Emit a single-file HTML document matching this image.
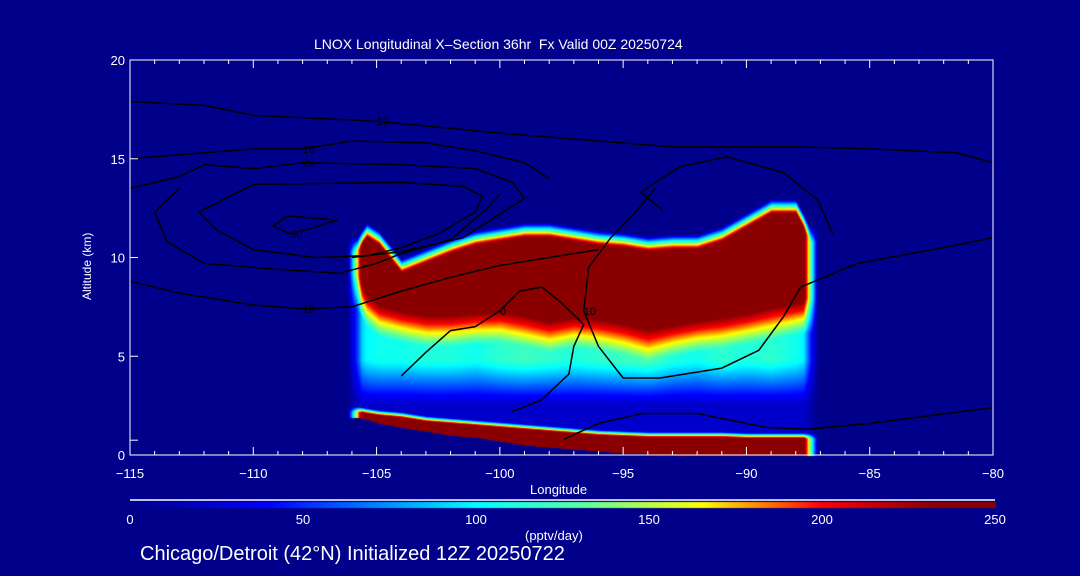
<!DOCTYPE html>
<html><head><meta charset="utf-8">
<style>
html,body{margin:0;padding:0;background:#00008a;}
#wrap{position:relative;width:1080px;height:576px;background:#00008a;overflow:hidden;font-family:"Liberation Sans",sans-serif;color:#fff;}
canvas{position:absolute;left:0;top:0;}
.t{position:absolute;color:#fff;font-size:13px;white-space:nowrap;}
</style></head>
<body>
<div id="wrap">
<canvas id="hm" width="1080" height="576"></canvas>
<svg id="ov" width="1080" height="576" style="position:absolute;left:0;top:0"></svg>
<div class="t" style="left:314px;top:36px;font-size:14px">LNOX Longitudinal X–Section 36hr&nbsp; Fx Valid 00Z 20250724</div>
<div class="t" style="left:530px;top:482px">Longitude</div>
<div class="t" style="left:80px;top:300px;transform:rotate(-90deg);transform-origin:left top;font-size:12px">Altitude (km)</div>
<div class="t" style="left:525px;top:528px">(pptv/day)</div>
<div class="t" style="left:140px;top:543px;font-size:20px">Chicago/Detroit (42°N) Initialized 12Z 20250722</div>
</div>
<script>
// data
const colLons   = [-105.8,-105.4,-104.9,-104,-103,-102,-101,-100,-99,-98,-97,-96,-95,-94,-93,-92,-91,-90,-89,-88,-87.4];
const redTop    = [10.3,11.0,10.6,9.2,9.7,10.2,10.6,10.8,11.0,11.0,10.8,10.6,10.5,10.3,10.4,10.4,10.8,11.5,12.2,12.2,10.8];
const redBot    = [9.2,8.3,7.8,7.5,7.3,7.3,7.4,7.5,7.3,7.0,7.2,7.1,6.9,6.6,6.8,7.0,7.2,7.4,7.7,7.9,8.0];
const midVal    = [80,100,105,105,110,110,105,115,120,115,110,115,120,125,110,105,115,110,115,105,90];
const surfTop   = [2.2,2.1,2.0,1.9,1.7,1.6,1.5,1.4,1.3,1.2,1.1,1.0,0.95,0.9,0.9,0.9,0.9,0.85,0.85,0.85,0.85];
const surfBot   = [1.9,1.8,1.6,1.4,1.2,1.0,0.9,0.7,0.5,0.4,0.3,0.2,0.1,0.05,0,0,0,0,0,0,0];
const xTicks = [-115,-110,-105,-100,-95,-90,-85,-80];
const yTicks = [0,5,10,15,20];
const cbTicks = [0,50,100,150,200,250];
const contours = [
 {lv:"10",pts:[[-115,17.9],[-112,17.7],[-110,17.2],[-105,16.9],[-100,16.3],[-97,16.0],[-93,15.6],[-88,15.6],[-85,15.5],[-81.5,15.3],[-80,14.8]]},
 {lv:"10",pts:[[-115,15.0],[-112,15.3],[-110,15.5],[-108,15.5],[-106,15.9],[-103,15.8],[-101,15.4],[-99,14.8],[-98,14.0]]},
 {lv:"20",pts:[[-115,13.5],[-113,14.1],[-112,14.7],[-110,14.5],[-108,14.8],[-104,14.7],[-101,14.5],[-99.5,13.8],[-99,13.0],[-100,12.2],[-101.5,11.0],[-104,10.3],[-106,10.0]]},
 {lv:"",pts:[[-113,13.5],[-114,12.3],[-113.5,10.8],[-112,9.7],[-109,9.4],[-106.5,9.2],[-105,9.7],[-104,10.2],[-102,10.9],[-100.5,12.5],[-100,13.2]]},
 {lv:"30",pts:[[-108.6,12.1],[-109.2,11.6],[-108.5,11.2],[-107.6,11.5],[-106.6,11.9],[-108.6,12.1]]},
 {lv:"",pts:[[-112.2,12.3],[-111.5,11.4],[-110,10.4],[-107.5,10.0],[-105.3,10.1],[-104,10.5],[-102.5,11.2],[-101,12.3],[-100.7,13.1],[-101.5,13.6],[-104,13.8],[-110,13.7],[-112.2,12.3]]},
 {lv:"10",pts:[[-115,8.8],[-113,8.2],[-110,7.6],[-108,7.4],[-106,7.5],[-104,8.3],[-102,9.0],[-100,9.6],[-98,10.0],[-96,10.4]]},
 {lv:"0",pts:[[-104,4.0],[-103,5.2],[-102,6.3],[-101,6.5],[-100,7.3],[-99.2,8.3],[-98.3,8.5],[-97.5,7.7],[-96.6,6.6],[-97.0,5.5],[-97.2,4.1],[-98.3,2.8],[-99.5,2.2]]},
 {lv:"",pts:[[-95,3.9],[-93.5,3.9],[-91,4.4],[-89.5,5.3],[-88.5,7.0],[-87.8,8.5],[-85.5,9.7],[-82,10.5],[-80,11.0]]},
 {lv:"10",pts:[[-95,3.9],[-96,5.5],[-96.6,7.3],[-96.4,9.5],[-95.5,11.0],[-94.5,12.3],[-93.7,13.5]]},
 {lv:"",pts:[[-93.4,12.4],[-94.3,13.3],[-92.7,14.6],[-90.8,15.1],[-88.5,14.3],[-87.1,12.9],[-86.5,11.2]]},
 {lv:"",pts:[[-97.4,0.8],[-96.0,1.6],[-94.2,2.1],[-92.0,2.1],[-89.2,1.4],[-87.5,1.3],[-85,1.6],[-80,2.4]]}
];
const X0=130,X1=993,Y0=455,Y1=60;
const xs=l=>X0+(l+115)/35*(X1-X0);
const ys=a=>Y0-a/20*(Y0-Y1);
const xinv=px=>-115+(px-X0)/(X1-X0)*35;
const yinv=py=>(Y0-py)/(Y0-Y1)*20;
const cstops=[[0,[0,0,138]],[40,[0,0,255]],[100,[0,255,255]],[130,[90,255,160]],[165,[255,255,0]],[200,[255,0,0]],[232,[138,0,0]],[250,[138,0,0]]];
function cmap(v){v=Math.max(0,Math.min(250,v));for(let i=1;i<cstops.length;i++){if(v<=cstops[i][0]){const a=cstops[i-1],b=cstops[i],t=(v-a[0])/(b[0]-a[0]);return a[1].map((c,k)=>Math.round(c+(b[1][k]-c)*t));}}return cstops[cstops.length-1][1];}
function interp(arr,l){if(l<=colLons[0])return arr[0];for(let i=1;i<colLons.length;i++){if(l<=colLons[i]){const t=(l-colLons[i-1])/(colLons[i]-colLons[i-1]);return arr[i-1]+(arr[i]-arr[i-1])*t;}}return arr[arr.length-1];}
function cl(t){return Math.max(0,Math.min(1,t));}
const cv=document.getElementById('hm'),ctx=cv.getContext('2d');
ctx.fillStyle='rgb(0,0,138)';ctx.fillRect(0,0,1080,576);
const img=ctx.getImageData(0,0,1080,576);
const L0=colLons[0],L1=colLons[colLons.length-1];
for(let px=X0;px<=X1;px++){const l=xinv(px);
 const edge=cl((l-L0+0.4)/0.6)*cl((L1-l+0.3)/0.6);
 if(edge<=0)continue;
 const rt=interp(redTop,l),rb=interp(redBot,l),mv=interp(midVal,l),st=interp(surfTop,l),sb=interp(surfBot,l);
 for(let py=Y1;py<=Y0;py++){const a=yinv(py);let v=0;
  if(a>=rt) v=250*(1-cl((a-rt)/0.8));
  else if(a>=rb) v=250;
  else if(a>=rb-1.8) v=mv+(250-mv)*cl(1-(rb-a)/1.8);
  else if(a>=4.8) v=mv;
  else if(a>=2.6) v=22+(mv-22)*cl((a-2.6)/2.2);
  else v=22;
  if(a<=st+0.3&&a>=sb){v=Math.max(v,a<=st?250:250-230*(a-st)/0.3);}
  else if(a<sb) v=0;
  v*=edge;
  if(v<=2)continue;
  const c=cmap(v),o=(py*1080+px)*4;img.data[o]=c[0];img.data[o+1]=c[1];img.data[o+2]=c[2];img.data[o+3]=255;}
}
// colorbar
for(let px=X0;px<=995;px++){const c=cmap((px-X0)/(995-X0)*250);for(let py=502;py<=507;py++){const o=(py*1080+px)*4;img.data[o]=c[0];img.data[o+1]=c[1];img.data[o+2]=c[2];img.data[o+3]=255;}}
ctx.putImageData(img,0,0);
// overlay
const NS='http://www.w3.org/2000/svg',ov=document.getElementById('ov');
function mk(tag,at){const e=document.createElementNS(NS,tag);for(const k in at)e.setAttribute(k,at[k]);ov.appendChild(e);return e;}
contours.forEach(c=>{const p=mk('polyline',{points:c.pts.map(q=>xs(q[0]).toFixed(1)+','+ys(q[1]).toFixed(1)).join(' '),fill:'none',stroke:'#000','stroke-width':1.5});
 
 
 if(c.lv){const m=c.pts[Math.floor(c.pts.length/3)];const t=mk('text',{x:xs(m[0]),y:ys(m[1])+4,fill:'#000','font-size':11,'font-family':'Liberation Sans'});t.textContent=c.lv;
 
 }
});
const fr=mk('rect',{x:X0,y:Y1,width:X1-X0,height:Y0-Y1,fill:'none',stroke:'#fff','stroke-width':1});


for(let l=-115;l<=-80;l++){const x=xs(l),maj=xTicks.includes(l);mk('line',{x1:x,x2:x,y1:Y0,y2:Y0-(maj?8:4),stroke:'#fff'});mk('line',{x1:x,x2:x,y1:Y1,y2:Y1+(maj?8:4),stroke:'#fff'});}
xTicks.forEach(l=>{const t=mk('text',{x:xs(l),y:478,fill:'#fff','font-size':13,'text-anchor':'middle','font-family':'Liberation Sans'});t.textContent=(l<0?'−':'')+Math.abs(l);
 
 });
yTicks.forEach(a=>{mk('line',{x1:X0,x2:X0+8,y1:ys(a),y2:ys(a),stroke:'#fff'});});
mk('line',{x1:X0,x2:X0+8,y1:ys(0.75),y2:ys(0.75),stroke:'#fff'});
yTicks.forEach(a=>{const t=mk('text',{x:X0-5,y:ys(a)+5,fill:'#fff','font-size':13,'text-anchor':'end','font-family':'Liberation Sans'});t.textContent=a;
 
 });
const cbl=mk('line',{x1:X0,x2:995,y1:500,y2:500,stroke:'#fff','stroke-width':1.5});


cbTicks.forEach(v=>{const t=mk('text',{x:X0+v/250*(995-X0),y:524,fill:'#fff','font-size':13,'text-anchor':'middle','font-family':'Liberation Sans'});t.textContent=v;
 
 });
</script>
</body></html>
